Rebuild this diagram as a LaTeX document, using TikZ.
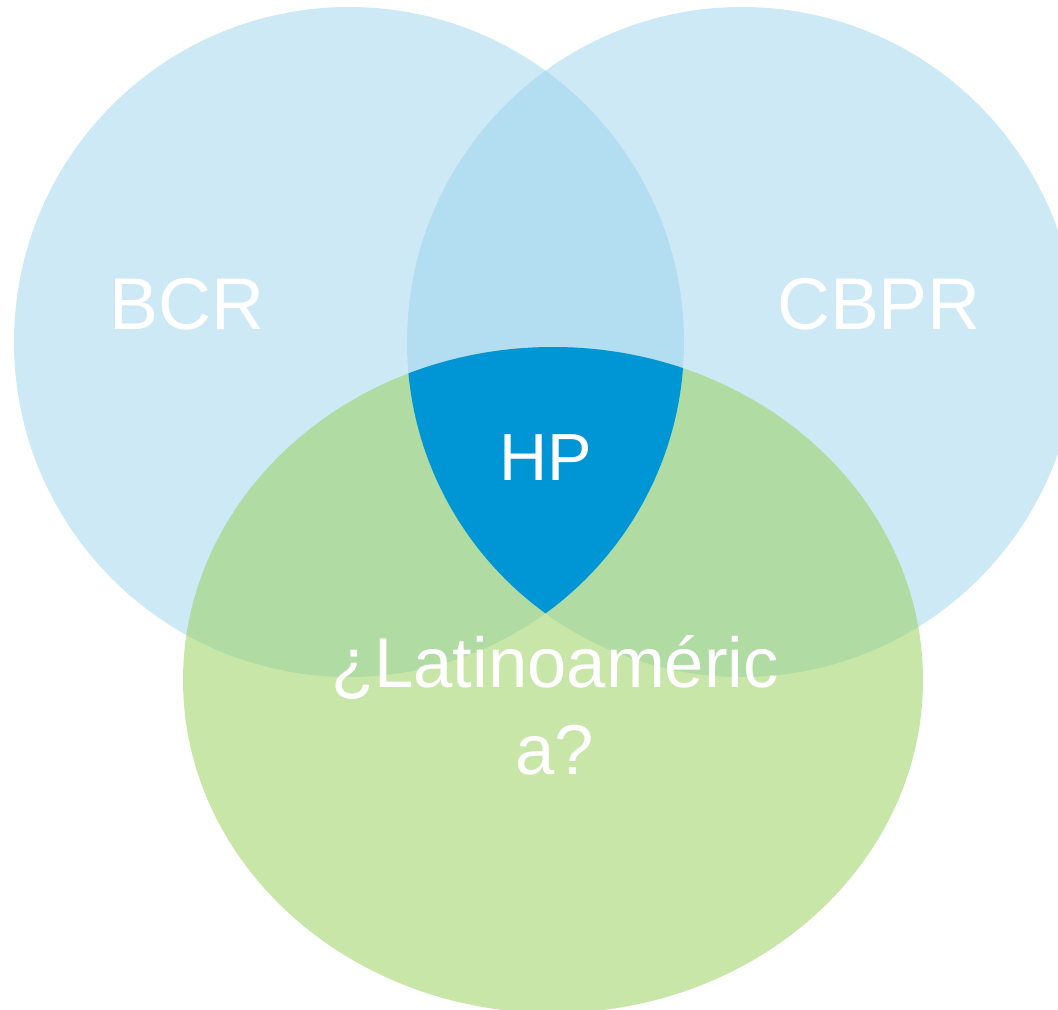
\documentclass[tikz,border=0pt]{standalone}
\usepackage{fontspec}
\setmainfont{Liberation Sans}
\definecolor{bluefill}{RGB}{151,209,236}
\definecolor{greenfill}{RGB}{149,207,88}
\definecolor{hpblue}{RGB}{0,150,214}
\begin{document}
\begin{tikzpicture}[x=0.75pt,y=-0.75pt,
  bluecirc/.style={fill=bluefill,fill opacity=0.48,draw=none},
  greenell/.style={fill=greenfill,fill opacity=0.52,draw=none},
  lbl/.style={text=white,font=\fontsize{55}{66}\selectfont,inner sep=0pt}]
\useasboundingbox (0,0) rectangle (1058,1010);
\begin{scope}
\clip (0,0) rectangle (1058,1010);
\path[bluecirc] (349,342) circle (335);
\path[bluecirc] (742,342) circle (335);
\path[greenell] (553,680) ellipse [x radius=370, y radius=333];
\begin{scope}
\clip (349,342) circle (335);
\clip (742,342) circle (335);
\fill[hpblue] (553,680) ellipse [x radius=370, y radius=333];
\end{scope}
\end{scope}
\node[lbl] (bcr) at (187,304) {BCR};
\node[lbl] (cbpr) at (879,304) {CBPR};
\node[lbl,font=\fontsize{50}{60}\selectfont] (hp) at (546,458) {HP};
\node[lbl,align=center,font=\fontsize{53}{65}\selectfont] (lat) at (555,705) {¿Latinoaméric\\a?};
\end{tikzpicture}
\end{document}
